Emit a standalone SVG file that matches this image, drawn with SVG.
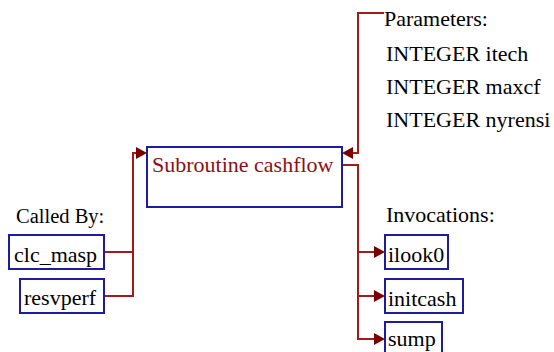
<svg xmlns="http://www.w3.org/2000/svg" width="554" height="352" viewBox="0 0 554 352">
<style>
.box{fill:#fff;stroke:#1c1c9c;stroke-width:2}
text{font-family:'Liberation Serif','DejaVu Serif',serif;font-size:22px;fill:#000}
.main{fill:#8b1010}
.ln{fill:none;stroke:#a01c1c;stroke-width:2}
.ah{fill:#7a0000}
</style>
<rect width="554" height="352" fill="#fff"/>
<g id="connectors">
<path class="ln" d="M104,252 H133 M104,296 H133 V153 H140"/>
<polygon class="ah" points="147,153 136,147 136,159"/>
<path class="ln" d="M384,13 H358 V153 H349"/>
<polygon class="ah" points="342,153 353,147 353,159"/>
<path class="ln" d="M342,165 H358 V339 H378 M358,252 H378 M358,296 H378"/>
<polygon class="ah" points="385,252 374,246 374,258"/>
<polygon class="ah" points="385,296 374,290 374,302"/>
<polygon class="ah" points="385,339 374,333 374,345"/>
</g>
<g id="main">
<rect class="box" x="147" y="147" width="195" height="60"/>
<text class="main" x="152" y="172">Subroutine cashflow</text>
</g>
<g id="params">
<text x="384" y="26">Parameters:</text>
<text x="386" y="61">INTEGER itech</text>
<text x="386" y="94">INTEGER maxcf</text>
<text x="386" y="127">INTEGER nyrensi</text>
</g>
<g id="calledby-label"><text x="16" y="223" style="font-size:20.5px">Called By:</text></g>
<g id="clc_masp">
<rect class="box" x="9" y="235" width="95" height="34"/>
<text x="14" y="262">clc_masp</text>
</g>
<g id="resvperf">
<rect class="box" x="20" y="279" width="84" height="34"/>
<text x="24" y="305">resvperf</text>
</g>
<g id="invocations-label"><text x="386" y="222">Invocations:</text></g>
<g id="ilook0">
<rect class="box" x="385" y="235" width="63" height="34"/>
<text x="388" y="262">ilook0</text>
</g>
<g id="initcash">
<rect class="box" x="385" y="279" width="78" height="34"/>
<text x="388" y="306">initcash</text>
</g>
<g id="sump">
<rect class="box" x="385" y="322" width="57" height="34"/>
<text x="388" y="346">sump</text>
</g>
</svg>
